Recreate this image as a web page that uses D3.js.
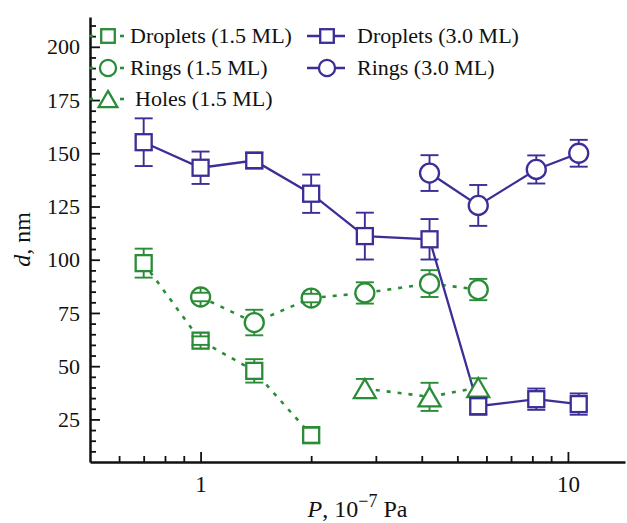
<!DOCTYPE html>
<html>
<head>
<meta charset="utf-8">
<script src="https://cdn.jsdelivr.net/npm/d3@7"></script>
<style>
    html, body { margin: 0; padding: 0; background: #ffffff; }
</style>
</head>
<body>
<svg id="chart" width="627" height="523"></svg>
<script>

//*************************************************//
// Data
//*************************************************//

// Droplets (1.5 ML)
var dropletsLowP = [0.7, 1.0, 1.4, 2.0];
var dropletsLowD = [98.4, 62, 47.8, 17.6];
var dropletsLowErr = [6.8, 2, 5.5, 3.5];

// Rings (1.5 ML)
var ringsLowP = [1.0, 1.4, 2.0, 2.8, 4.2, 5.7];
var ringsLowD = [82.5, 70.5, 82, 84.4, 88.8, 86];
var ringsLowErr = [2, 6, 2, 5, 6.3, 5];

// Holes (1.5 ML)
var holesLowP = [2.8, 4.2, 5.7];
var holesLowD = [39.5, 35.6, 40];
var holesLowErr = [4.5, 6.6, 4.3];

// Droplets (3.0 ML)
var dropletsHighP = [0.7, 1.0, 1.4, 2.0, 2.8, 4.2, 5.7, 8.2, 10.7];
var dropletsHighD = [155.2, 143.2, 146.6, 131, 111.1, 109.6, 31.2, 34.5, 32.2];
var dropletsHighErr = [11.2, 7.6, 3.5, 9, 11, 9.5, 4, 5, 5];

// Rings (3.0 ML)
var ringsHighP = [4.2, 5.7, 8.2, 10.7];
var ringsHighD = [140.7, 125.5, 142.4, 150];
var ringsHighErr = [8.4, 9.6, 6.6, 6.3];

// Axis ticks
var xMajorTicks = [1, 10];
var xMinorTicks = [0.6, 0.7, 0.8, 0.9, 2, 3, 4, 5, 6, 7, 8, 9];
var yMajorTicks = [25, 50, 75, 100, 125, 150, 175, 200];
var yMinorTicks = d3.range(10, 215, 5).filter(function(v) { return v % 25 != 0; });

var green = '#2b8c37';
var blue = '#3b2e96';
var serifFont = 'Liberation Serif';

var series = [
    { name: 'Droplets (1.5 ML)', p: dropletsLowP, d: dropletsLowD, err: dropletsLowErr, color: green, shape: 'square', dotted: true },
    { name: 'Rings (1.5 ML)', p: ringsLowP, d: ringsLowD, err: ringsLowErr, color: green, shape: 'circle', dotted: true },
    { name: 'Holes (1.5 ML)', p: holesLowP, d: holesLowD, err: holesLowErr, color: green, shape: 'triangle', dotted: true },
    { name: 'Droplets (3.0 ML)', p: dropletsHighP, d: dropletsHighD, err: dropletsHighErr, color: blue, shape: 'square', dotted: false },
    { name: 'Rings (3.0 ML)', p: ringsHighP, d: ringsHighD, err: ringsHighErr, color: blue, shape: 'circle', dotted: false }
];


//*************************************************//
// Scales
//*************************************************//

var svg = d3.select('#chart');

var plot = { left: 90, right: 625, top: 17, bottom: 462 };

var x = d3.scaleLog().domain([0.5, 14.3]).range([plot.left, plot.right]);
var y = d3.scaleLinear().domain([5, 214]).range([plot.bottom, plot.top]);


//*************************************************//
// Marker helpers
//*************************************************//

// Half height of each marker (used to stop error bar stems at its edge)
var markerHalf = { square: 8, circle: 9.5, triangle: 9 };

var drawMarker = function(g, shape, cx, cy, color, scale) {
    scale = scale || 1;
    var m;
    if (shape == 'square') {
        var s = 16 * scale;
        m = g.append('rect')
            .attr('x', cx - s / 2)
            .attr('y', cy - s / 2)
            .attr('width', s)
            .attr('height', s);
    } else if (shape == 'circle') {
        m = g.append('circle')
            .attr('cx', cx)
            .attr('cy', cy)
            .attr('r', 9.5 * scale);
    } else {
        var w = 22 * scale, h = 19 * scale;
        m = g.append('path')
            .attr('d', 'M' + cx + ',' + (cy - h / 2) +
                       'L' + (cx + w / 2) + ',' + (cy + h / 2) +
                       'L' + (cx - w / 2) + ',' + (cy + h / 2) + 'Z');
    }
    m.attr('fill', '#ffffff')
        .attr('stroke', color)
        .attr('stroke-width', 2.3)
        .attr('stroke-linejoin', 'miter');
    return m;
};


//*************************************************//
// Axes
//*************************************************//

// Minor ticks first
svg.append('g')
    .attr('transform', 'translate(0,' + plot.bottom + ')')
    .call(d3.axisBottom(x).tickValues(xMinorTicks).tickSize(-6).tickFormat(''))
    .call(function(g) { g.select('.domain').remove(); });

svg.append('g')
    .attr('transform', 'translate(' + plot.left + ',0)')
    .call(d3.axisLeft(y).tickValues(yMinorTicks).tickSize(-6).tickFormat(''))
    .call(function(g) { g.select('.domain').remove(); });

// Major ticks with labels
var xAxis = svg.append('g')
    .attr('transform', 'translate(0,' + plot.bottom + ')')
    .call(d3.axisBottom(x).tickValues(xMajorTicks).tickSizeInner(-10).tickSizeOuter(0)
        .tickPadding(14).tickFormat(d3.format('d')));

var yAxis = svg.append('g')
    .attr('transform', 'translate(' + plot.left + ',0)')
    .call(d3.axisLeft(y).tickValues(yMajorTicks).tickSizeInner(-10).tickSizeOuter(0)
        .tickPadding(10));

svg.selectAll('.tick line')
    .attr('stroke', '#111')
    .attr('stroke-width', 1.8);

svg.selectAll('.domain')
    .attr('stroke', '#111')
    .attr('stroke-width', 2.5);

yAxis.selectAll('.tick text')
    .attr('fill', '#111')
    .attr('font-family', serifFont)
    .attr('font-size', 22);

xAxis.selectAll('.tick text')
    .attr('fill', '#111')
    .attr('font-family', serifFont)
    .attr('font-size', 23);

// Axis titles
var xLabel = svg.append('text')
    .attr('x', (plot.left + plot.right) / 2)
    .attr('y', 517)
    .attr('text-anchor', 'middle')
    .attr('fill', '#111')
    .attr('font-family', serifFont)
    .attr('font-size', 24);
xLabel.append('tspan').attr('font-style', 'italic').text('P');
xLabel.append('tspan').text(', 10');
xLabel.append('tspan').attr('dy', -10).attr('font-size', 18).text('\u22127');
xLabel.append('tspan').attr('dy', 10).text('\u00a0Pa');

var yLabel = svg.append('text')
    .attr('transform', 'translate(30,' + (plot.top + plot.bottom) / 2 + ') rotate(-90)')
    .attr('text-anchor', 'middle')
    .attr('fill', '#111')
    .attr('font-family', serifFont)
    .attr('font-size', 24);
yLabel.append('tspan').attr('font-style', 'italic').text('d');
yLabel.append('tspan').text(', nm');


//*************************************************//
// Series: lines, markers, error bars
//*************************************************//

var line = d3.line()
    .x(function(d) { return x(d.p); })
    .y(function(d) { return y(d.d); });

series.forEach(function(s) {
    s.points = s.p.map(function(p, i) { return { p: p, d: s.d[i], err: s.err[i] }; });

    svg.append('path')
        .datum(s.points)
        .attr('d', line)
        .attr('fill', 'none')
        .attr('stroke', s.color)
        .attr('stroke-width', s.dotted ? 2.6 : 2.3)
        .attr('stroke-dasharray', s.dotted ? '4,7' : null);
});

series.forEach(function(s) {
    var g = svg.append('g');
    var half = markerHalf[s.shape];

    s.points.forEach(function(pt) {
        var cx = x(pt.p), cy = y(pt.d);
        drawMarker(g, s.shape, cx, cy, s.color);

        // Error bar drawn over the hollow marker, stems stop at its edge
        var e = y(pt.d - pt.err) - cy;
        var bar = g.append('g')
            .attr('stroke', s.color)
            .attr('stroke-width', 1.9)
            .attr('fill', 'none');
        bar.append('line').attr('x1', cx).attr('x2', cx).attr('y1', cy - e).attr('y2', cy - half);
        bar.append('line').attr('x1', cx).attr('x2', cx).attr('y1', cy + half).attr('y2', cy + e);
        bar.append('line').attr('x1', cx - 9).attr('x2', cx + 9).attr('y1', cy - e).attr('y2', cy - e);
        bar.append('line').attr('x1', cx - 9).attr('x2', cx + 9).attr('y1', cy + e).attr('y2', cy + e);
    });
});


//*************************************************//
// Legend
//*************************************************//

var legendRows = [
    { s: series[0], x: 108, y: 36, textX: 130 },
    { s: series[1], x: 108, y: 68, textX: 130 },
    { s: series[2], x: 108, y: 99, textX: 135 },
    { s: series[3], x: 327, y: 36, textX: 357 },
    { s: series[4], x: 327, y: 68, textX: 357 }
];

legendRows.forEach(function(row) {
    var g = svg.append('g');
    var s = row.s;

    if (s.dotted) {
        [[-19, -15], [12, 16]].forEach(function(seg) {
            g.append('line')
                .attr('x1', row.x + seg[0]).attr('x2', row.x + seg[1])
                .attr('y1', row.y).attr('y2', row.y)
                .attr('stroke', s.color)
                .attr('stroke-width', 2.6);
        });
    } else {
        g.append('line')
            .attr('x1', row.x - 20).attr('x2', row.x + 18)
            .attr('y1', row.y).attr('y2', row.y)
            .attr('stroke', s.color)
            .attr('stroke-width', 2.3);
    }

    drawMarker(g, s.shape, row.x, row.y, s.color, 0.85);

    g.append('text')
        .attr('x', row.textX)
        .attr('y', row.y)
        .attr('dy', '0.33em')
        .attr('fill', '#111')
        .attr('font-family', serifFont)
        .attr('font-size', 22)
        .text(s.name);
});

</script>
</body>
</html>
